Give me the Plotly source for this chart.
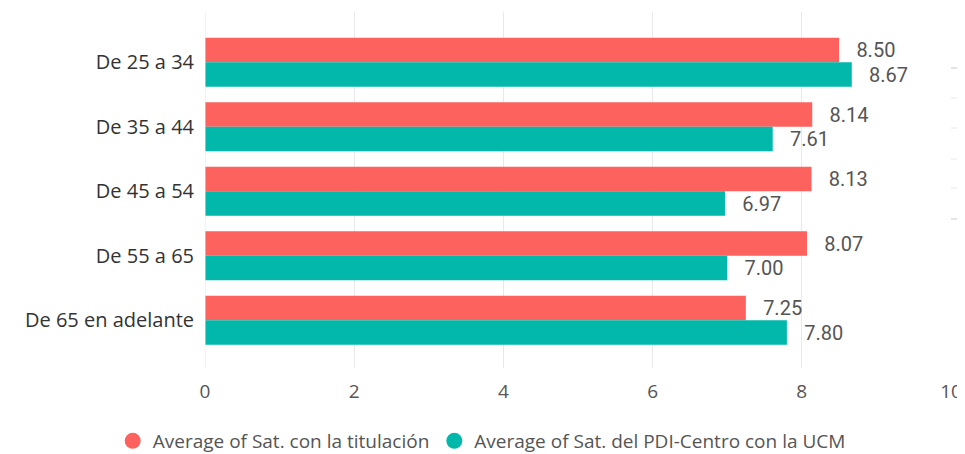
import plotly.graph_objects as go

categories = ["De 25 a 34", "De 35 a 44", "De 45 a 54", "De 55 a 65", "De 65 en adelante"]
sat_titulacion = [8.50, 8.14, 8.13, 8.07, 7.25]
sat_pdi_ucm = [8.67, 7.61, 6.97, 7.00, 7.80]
series_names = ["Average of Sat. con la titulación", "Average of Sat. del PDI-Centro con la UCM"]
colors = ["#FD625E", "#01B8AA"]
x_ticks = [0, 2, 4, 6, 8, 10]

FONT = "Open Sans, Noto Sans, sans-serif"
LABEL_FONT = "Roboto, sans-serif"
PAD = "\u2002\u2009"

# page body has an 8px default margin: size the figure to fit the 965x454 window
W, H = 957, 446
L, R, T, B = 197, 14, 4, 86

fig = go.Figure()
for vals, name, col in zip([sat_titulacion, sat_pdi_ucm], series_names, colors):
    fig.add_trace(go.Bar(
        y=categories, x=vals, orientation="h", name=name,
        marker=dict(color=col, line=dict(width=0)),
        text=[f"{PAD}{v:.2f}" for v in vals], textposition="outside",
        textfont=dict(family=LABEL_FONT, size=20, color="#555555"),
        cliponaxis=False, showlegend=False,
    ))
    fig.add_trace(go.Scatter(
        x=[None], y=[None], mode="markers", name=name,
        marker=dict(color=col, size=18, symbol="circle"),
        showlegend=True,
    ))

plot_h = H - T - B
shapes = []
for ypx, c in [(68, "#c8c8c8"), (98, "#e8e8e8"), (128, "#e8e8e8"), (159, "#e8e8e8"), (188, "#e8e8e8"), (219, "#c8c8c8")]:
    yp = 1 - (ypx - 8 - T) / plot_h
    shapes.append(dict(type="line", xref="paper", yref="paper", x0=1.0, x1=1.02,
                       y0=yp, y1=yp, line=dict(color=c, width=1)))

fig.update_layout(
    width=W, height=H,
    margin=dict(l=L, r=R, t=T, b=B),
    paper_bgcolor="white", plot_bgcolor="white",
    barmode="group", bargap=0.24, bargroupgap=0,
    font=dict(family=FONT, size=20, color="#333333"),
    xaxis=dict(range=[0, 10], tickvals=x_ticks, showgrid=True, gridcolor="#e9e9e9",
               gridwidth=1, zeroline=False, showline=False, automargin=False,
               tickfont=dict(family=FONT, size=19, color="#555555"), ticks="",
               ticklabelstandoff=10),
    yaxis=dict(categoryorder="array", categoryarray=categories, range=[4.74, -0.78],
               showgrid=False, zeroline=False, showline=False, ticks="", automargin=False,
               tickfont=dict(family=FONT, size=20, color="#333333"), ticklabelstandoff=10),
    legend=dict(orientation="h", xref="container", x=0.495, xanchor="center",
                yref="container", y=13 / H, yanchor="middle",
                font=dict(family=FONT, size=19, color="#555555"),
                itemsizing="trace", itemwidth=30, tracegroupgap=0),
    shapes=shapes,
)
fig.add_shape(type="line", xref="x", yref="paper", x0=0, x1=0, y0=0, y1=1,
              line=dict(color="#e9e9e9", width=1))

fig.write_html("out.html")
